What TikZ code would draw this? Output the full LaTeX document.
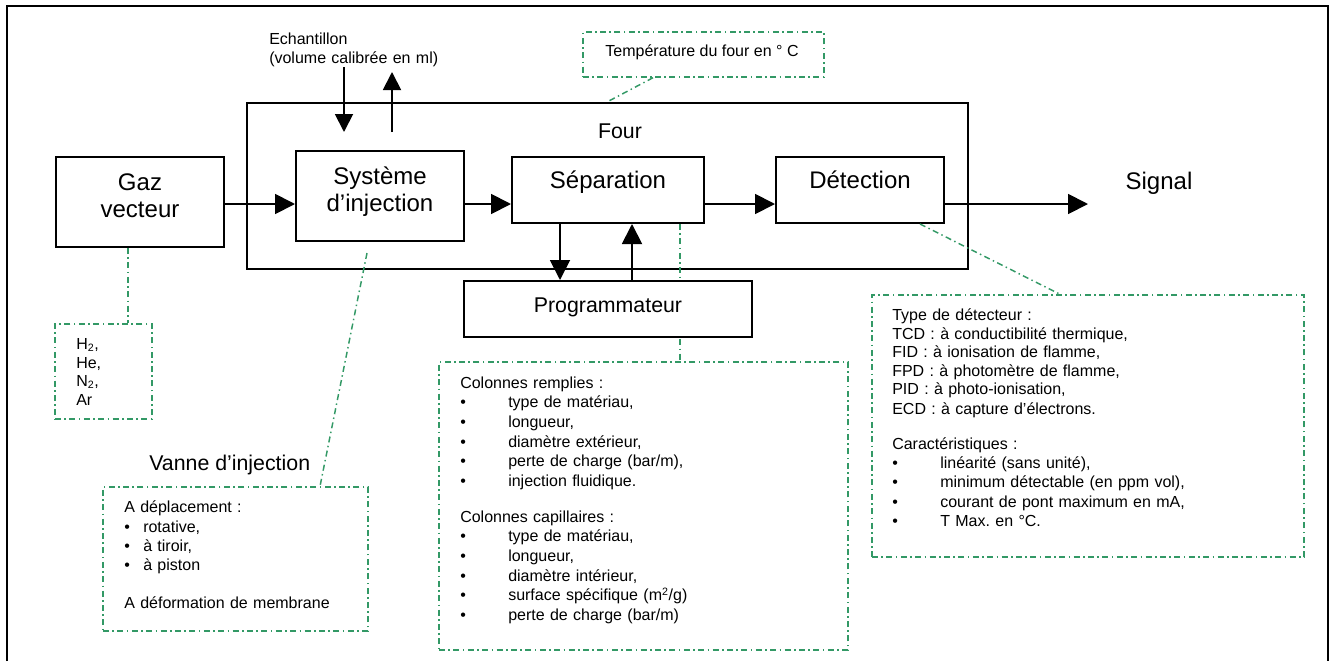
\documentclass[tikz,border=0pt]{standalone}
\usepackage{fontspec}
\setmainfont{Liberation Sans}
\usetikzlibrary{arrows.meta,fit,calc}
\definecolor{callgreen}{RGB}{51,153,102}
\frenchspacing
\begin{document}
\begin{tikzpicture}[x=0.75pt,y=-0.75pt,
  frame/.style={line width=1.5pt},
  box/.style={draw, line width=1.5pt, fill=white, inner sep=0pt},
  gdash/.style={dash pattern=on 4.5pt off 2.6pt on 1.1pt off 2.6pt},
  note/.style={draw=callgreen, line width=1.1pt, gdash, inner sep=0pt},
  link/.style={draw=callgreen, line width=1.1pt, gdash},
  arr/.style={line width=1.4pt, -{Triangle[length=15pt,width=15pt]}},
  earr/.style={line width=1.4pt, -{Triangle[length=13.5pt,width=13.5pt]}},
  big/.style={font=\fontsize{18pt}{20.5pt}\selectfont, inner sep=0pt, anchor=base},
  med/.style={font=\fontsize{16pt}{18pt}\selectfont, inner sep=0pt, anchor=base},
  small/.style={font=\fontsize{12pt}{14.5pt}\selectfont, inner sep=0pt, anchor=base west},
  para/.style={small, text width=330pt, align=left}
]
\useasboundingbox (0,0) rectangle (1335,661);
% outer frame
\draw[frame] (7,661) -- (7,6) -- (1328,6) -- (1328,661);

% helper coordinates
\coordinate (flow) at (0,204);
\coordinate (xdown) at (560,0);
\coordinate (xup) at (632,0);
\coordinate (xg) at (128,0);
\coordinate (xv) at (320,0);
\coordinate (xt1) at (653,0);
\coordinate (xt2) at (607,0);
\coordinate (xd1) at (920,0);
\coordinate (xd2) at (1060,0);
\coordinate (xc) at (680,0);
\coordinate (vstart) at (367,253);
\coordinate (ech1s) at (344,67);
\coordinate (ech1e) at (344,132);
\coordinate (ech2s) at (392,132);
\coordinate (ech2e) at (392,72);
\coordinate (sigend) at (1088,204);

% boxes
\node[box, fill=none, fit={(247,103)(968,269)}] (four) {};
\node[box, fit={(56,157)(224,247)}] (gaz) {};
\node[box, fit={(296,151)(464,241)}] (syst) {};
\node[box, fit={(512,157)(704,223)}] (sep) {};
\node[box, fit={(776,157)(944,223)}] (det) {};

% callout boxes
\node[note, fit={(583,32)(824,77)}] (temp) {};
\node[note, fit={(55,324)(152,419)}] (h2) {};
\node[note, fit={(103,487)(368,631)}] (vanne) {};
\node[note, fit={(439,362)(848,650)}] (col) {};
\node[note, fit={(872,295)(1304,557)}] (detbox) {};

% callout connectors
\draw[link] (gaz.south -| xg) -- (h2.north -| xg);
\draw[link] (vstart) -- (vanne.north -| xv);
\draw[link] (temp.south -| xt1) -- (four.north -| xt2);
\draw[link] (det.south -| xd1) -- (detbox.north -| xd2);
\draw[link] (sep.south -| xc) -- (col.north -| xc);

% programmateur (covers the callout line)
\node[box, fit={(464,281)(752,337)}] (prog) {};

% labels
\node[big] (gazt1) at (140,190) {Gaz};
\node[big] (gazt2) at (140,217) {vecteur};
\node[big] (systt1) at (380,184) {Système};
\node[big] (systt2) at (380,211) {d’injection};
\node[big] (sept) at (608,188) {Séparation};
\node[big] (dett) at (860,188) {Détection};
\node[med] (progt) at (608,312) {Programmateur};
\node[med] (fourt) at (620,138) {Four};
\node[big] (signalt) at (1159,189) {Signal};
\node[med, anchor=base west] (vannet) at (149,470) {Vanne d’injection};
\node[para] (echt) at (269,44) {\baselineskip=14.3pt Echantillon\\(volume calibrée en ml)};
\node[small, anchor=base] (tempt) at (702,56) {Température du four en ° C};

% arrows
\draw[arr] (gaz.east |- flow) -- (syst.west |- flow);
\draw[arr] (syst.east |- flow) -- (sep.west |- flow);
\draw[arr] (sep.east |- flow) -- (det.west |- flow);
\draw[arr] (det.east |- flow) -- (sigend);
\draw[arr] (xdown |- sep.south) -- (xdown |- prog.north);
\draw[arr] (xup |- prog.north) -- (xup |- sep.south);
\draw[earr] (ech1s) -- (ech1e);
\draw[earr] (ech2s) -- (ech2e);

% callout texts
\node[para] (h2t) at (76,349.5) {\baselineskip=13.9pt H\textsubscript{2},\\He,\\N\textsubscript{2},\\Ar};
\node[para] (vanne1) at (124,512.7) {\baselineskip=14.5pt A déplacement :\\
\makebox[14.25pt][l]{•}rotative,\\
\makebox[14.25pt][l]{•}à tiroir,\\
\makebox[14.25pt][l]{•}à piston};
\node[para] (vanne2) at (124,608) {A déformation de membrane};
\node[para] (col1) at (460,388) {\baselineskip=14.8pt Colonnes remplies  :\\
\makebox[36pt][l]{•}type de matériau,\\
\makebox[36pt][l]{•}longueur,\\
\makebox[36pt][l]{•}diamètre extérieur,\\
\makebox[36pt][l]{•}perte de charge (bar/m),\\
\makebox[36pt][l]{•}injection fluidique.};
\node[para] (col2) at (460,522) {\baselineskip=14.8pt Colonnes capillaires  :\\
\makebox[36pt][l]{•}type de matériau,\\
\makebox[36pt][l]{•}longueur,\\
\makebox[36pt][l]{•}diamètre intérieur,\\
\makebox[36pt][l]{•}surface spécifique (m\textsuperscript{2}/g)\\
\makebox[36pt][l]{•}perte de charge (bar/m)};
\node[para] (det1) at (892,320.7) {\baselineskip=13.9pt Type de détecteur :\\
TCD : à conductibilité thermique,\\
FID : à ionisation de flamme,\\
FPD : à photomètre de flamme,\\
PID : à photo-ionisation,\\
ECD : à capture d’électrons.};
\node[para] (det2) at (892,449) {\baselineskip=14.5pt Caractéristiques :\\
\makebox[36pt][l]{•}linéarité (sans unité),\\
\makebox[36pt][l]{•}minimum détectable (en ppm vol),\\
\makebox[36pt][l]{•}courant de pont maximum en mA,\\
\makebox[36pt][l]{•}T Max. en °C.};
\end{tikzpicture}
\end{document}
